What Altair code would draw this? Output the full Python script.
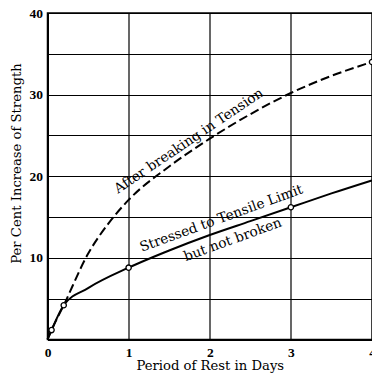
import altair as alt
import pandas as pd

# Curve readings (days, per cent increase of strength)
days_solid = [0, 0.05, 0.2, 0.5, 1, 1.5, 2, 2.5, 3, 3.5, 4]
pct_solid = [0, 1.15, 4.2, 6.3, 8.8, 10.9, 12.8, 14.5, 16.2, 17.9, 19.5]
days_dashed = [0, 0.05, 0.2, 0.5, 0.75, 1, 1.5, 2, 2.5, 3, 3.5, 4]
pct_dashed = [0, 1.15, 4.2, 10.5, 14.2, 17.1, 21.2, 24.6, 27.6, 30.2, 32.3, 34.0]

# Observed points (open circles)
mark_days = [0.05, 0.2, 1, 3, 4]
mark_pct = [1.15, 4.2, 8.8, 16.2, 34.0]

# Curve labels
label_text = ["After breaking in Tension", "Stressed to Tensile Limit", "but not broken"]
label_days = [1.77, 2.16, 2.30]
label_pct = [23.9, 14.35, 11.75]
label_angle = [326, 340, 340]

x_grid = [0, 0.5, 1, 1.5, 2, 2.5, 3, 3.5, 4]
y_grid = [0, 5, 10, 15, 20, 25, 30, 35, 40]

solid_df = pd.DataFrame({"days": days_solid, "pct": pct_solid})
dashed_df = pd.DataFrame({"days": days_dashed, "pct": pct_dashed})
marks_df = pd.DataFrame({"days": mark_days, "pct": mark_pct})
labels_df = pd.DataFrame({"text": label_text, "days": label_days,
                          "pct": label_pct, "angle": label_angle})

xscale = alt.Scale(domain=[0, 4], nice=False, zero=False)
yscale = alt.Scale(domain=[0, 40], nice=False, zero=False)

xaxis = alt.Axis(values=x_grid, grid=True, ticks=False, format="d",
                 labelExpr="datum.value % 1 == 0 ? datum.label : ''",
                 title="Period of Rest in Days", labelFlush=False,
                 labelPadding=6, titleY=30, titleBaseline="alphabetic",
                 titleAlign="center")
yaxis = alt.Axis(values=y_grid, grid=True, ticks=False, format="d",
                 labelExpr="(datum.value % 10 == 0 && datum.value > 0) ? datum.label : ''",
                 title="Per Cent Increase of Strength", labelFlush=False,
                 labelPadding=5, titleX=-27.5, titleY=150, titleAngle=270,
                 titleBaseline="alphabetic", titleAlign="center")

X = alt.X("days:Q", scale=xscale, axis=xaxis)
Y = alt.Y("pct:Q", scale=yscale, axis=yaxis)

solid = alt.Chart(solid_df).mark_line(
    color="black", strokeWidth=2, interpolate="monotone"
).encode(x=X, y=Y)

dashed = alt.Chart(dashed_df).mark_line(
    color="black", strokeWidth=2, strokeDash=[9, 4], interpolate="monotone"
).encode(x="days:Q", y="pct:Q")

points = alt.Chart(marks_df).mark_point(
    shape="circle", size=28, filled=True, fill="white",
    stroke="black", strokeWidth=1.3, opacity=1
).encode(x="days:Q", y="pct:Q")

labels = alt.Chart(labels_df).mark_text(
    font="DejaVu Serif", fontSize=13.7, color="black",
    align="center", baseline="alphabetic"
).encode(x="days:Q", y="pct:Q", text="text:N", angle=alt.Angle("angle:Q", scale=None))

chart = alt.layer(solid, dashed, points, labels).properties(
    width=324.5, height=326.5,
    autosize=alt.AutoSizeParams(type="none"),
    padding={"left": 39.5, "top": 5, "right": 0, "bottom": 35},
    background="white",
).configure_view(
    stroke="black", strokeWidth=1.5
).configure_axis(
    gridColor="black", gridWidth=1.2, gridOpacity=1,
    domainColor="black", domainWidth=2,
    labelFont="Liberation Serif", labelFontWeight="bold", labelFontSize=13.5,
    labelColor="black",
    titleFont="DejaVu Serif", titleFontWeight="normal", titleFontSize=13.2,
    titleColor="black",
)

chart.save("out.html", embed_options={"renderer": "svg", "actions": False})
